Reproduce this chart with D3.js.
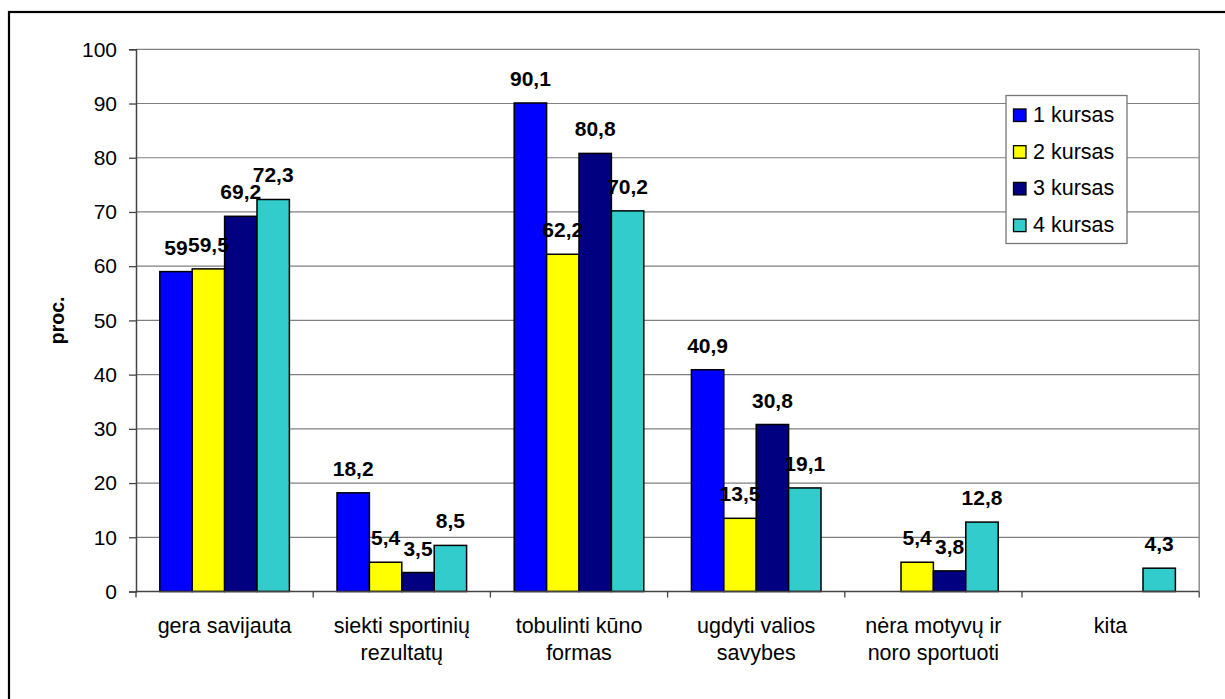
<!DOCTYPE html>
<html>
<head>
<meta charset="utf-8">
<script src="https://cdn.jsdelivr.net/npm/d3@7"></script>
<style>
  html, body { margin: 0; padding: 0; background: #fff; }
  svg { display: block; font-family: "Liberation Sans", Arial, sans-serif; }
</style>
</head>
<body>
<svg id="chart" width="1225" height="699"></svg>
<script>
// ---- data ----
const categories = [
  "gera savijauta",
  "siekti sportinių\nrezultatų",
  "tobulinti kūno\nformas",
  "ugdyti valios\nsavybes",
  "nėra motyvų ir\nnoro sportuoti",
  "kita"
];
const seriesNames = ["1 kursas", "2 kursas", "3 kursas", "4 kursas"];
const kursas1 = [59, 18.2, 90.1, 40.9, null, null];
const kursas2 = [59.5, 5.4, 62.2, 13.5, 5.4, null];
const kursas3 = [69.2, 3.5, 80.8, 30.8, 3.8, null];
const kursas4 = [72.3, 8.5, 70.2, 19.1, 12.8, 4.3];
const yTicks = [0, 10, 20, 30, 40, 50, 60, 70, 80, 90, 100];
const yTitle = "proc.";

const seriesValues = [kursas1, kursas2, kursas3, kursas4];
const colors = ["#0000FF", "#FFFF00", "#000080", "#33CCCC"];

// ---- layout ----
const plot = { left: 136, right: 1199.2, top: 49.3, bottom: 591.5 };
const svg = d3.select("#chart");

// outer frame (cropped at right and bottom)
svg.append("rect")
  .attr("x", 9).attr("y", 12)
  .attr("width", 1240).attr("height", 720)
  .attr("fill", "none").attr("stroke", "#000").attr("stroke-width", 2.2);

const x0 = d3.scaleBand().domain(d3.range(categories.length))
  .range([plot.left, plot.right]).paddingInner(0).paddingOuter(0);
const x1 = d3.scaleBand().domain(d3.range(seriesNames.length))
  .range([0, x0.bandwidth()]).paddingInner(0).paddingOuter(0.735);
const y = d3.scaleLinear().domain([0, 100]).range([plot.bottom, plot.top]);

// gridlines
svg.append("g")
  .selectAll("line").data(yTicks.filter(t => t > 0)).join("line")
  .attr("x1", plot.left).attr("x2", plot.right)
  .attr("y1", d => y(d)).attr("y2", d => y(d))
  .attr("stroke", "#808080").attr("stroke-width", 1.2);

// right plot border
svg.append("line")
  .attr("x1", plot.right).attr("x2", plot.right)
  .attr("y1", plot.top).attr("y2", plot.bottom)
  .attr("stroke", "#909090").attr("stroke-width", 1.5);

// bars
const rows = [];
seriesValues.forEach((vals, s) => vals.forEach((v, c) => {
  if (v !== null && v !== undefined) rows.push({ s, c, v });
}));

svg.append("g").selectAll("rect").data(rows).join("rect")
  .attr("x", d => x0(d.c) + x1(d.s))
  .attr("y", d => y(d.v))
  .attr("width", x1.bandwidth())
  .attr("height", d => y(0) - y(d.v))
  .attr("fill", d => colors[d.s])
  .attr("stroke", "#000").attr("stroke-width", 1.5);

// y axis
const yAxis = d3.axisLeft(y).tickValues(yTicks).tickSize(7).tickPadding(12)
  .tickFormat(d3.format("d"));
const gy = svg.append("g").attr("transform", `translate(${plot.left},0)`).call(yAxis);
gy.select(".domain").attr("stroke", "#444").attr("stroke-width", 1.5);
gy.selectAll(".tick line").attr("stroke", "#444").attr("stroke-width", 1.3);
gy.selectAll(".tick text").attr("font-size", 21).attr("fill", "#000")
  .attr("font-family", "Liberation Sans, Arial, sans-serif");

// x axis
svg.append("line")
  .attr("x1", plot.left).attr("x2", plot.right)
  .attr("y1", plot.bottom).attr("y2", plot.bottom)
  .attr("stroke", "#444").attr("stroke-width", 1.5);
const bounds = d3.range(categories.length).map(i => x0(i)).concat([plot.right]);
svg.append("g").selectAll("line").data(bounds).join("line")
  .attr("x1", d => d).attr("x2", d => d)
  .attr("y1", plot.bottom).attr("y2", plot.bottom + 6)
  .attr("stroke", "#444").attr("stroke-width", 1.3);

// category labels
const catG = svg.append("g").selectAll("text").data(categories).join("text")
  .attr("text-anchor", "middle")
  .attr("font-size", 21.5)
  .attr("fill", "#000")
  .attr("transform", (d, i) => `translate(${x0(i) + x0.bandwidth() / 2},632.5)`);
catG.selectAll("tspan").data(d => d.split("\n")).join("tspan")
  .attr("x", 0).attr("dy", (d, i) => i === 0 ? 0 : 27)
  .text(d => d);

// value labels
const fmt = v => String(v).replace(".", ",");
svg.append("g").selectAll("text").data(rows).join("text")
  .attr("x", d => x0(d.c) + x1(d.s) + x1.bandwidth() / 2)
  .attr("y", d => y(d.v) - 17)
  .attr("text-anchor", "middle")
  .attr("font-size", 21)
  .attr("font-weight", "bold")
  .attr("fill", "#000")
  .text(d => fmt(d.v));

// y title
svg.append("text")
  .attr("transform", `translate(64,${(plot.top + plot.bottom) / 2}) rotate(-90)`)
  .attr("text-anchor", "middle")
  .attr("font-size", 19.5)
  .attr("font-weight", "bold")
  .text(yTitle);

// legend
const lg = svg.append("g").attr("transform", "translate(1006,95.5)");
lg.append("rect").attr("x", 0).attr("y", 0).attr("width", 121).attr("height", 148)
  .attr("fill", "#fff").attr("stroke", "#777").attr("stroke-width", 1.3);
const items = lg.selectAll("g").data(seriesNames).join("g")
  .attr("transform", (d, i) => `translate(0,${19 + i * 36.7})`);
items.append("rect").attr("x", 7.5).attr("y", -5.5).attr("width", 12.5).attr("height", 12.5)
  .attr("fill", (d, i) => colors[i]).attr("stroke", "#000").attr("stroke-width", 1.3);
items.append("text").attr("x", 27).attr("y", 0).attr("dy", "0.35em")
  .attr("font-size", 21.5).attr("fill", "#000").text(d => d);
</script>
</body>
</html>
